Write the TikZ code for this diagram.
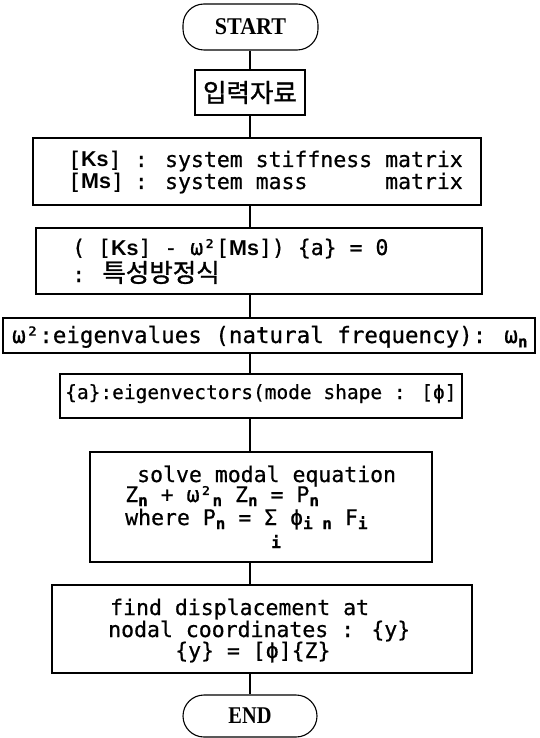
\documentclass[tikz,border=0pt]{standalone}
\usepackage{fontspec}
\setmainfont{Liberation Serif}
\newfontfamily\monof[FakeBold=0.6]{DejaVu Sans Mono}
\newfontfamily\korf[FakeBold=1.2]{Noto Sans CJK KR}
\newfontfamily\sanf{Liberation Sans}
\newcommand{\lo}[1]{\raisebox{-0.35ex}{\fontsize{16}{16}\selectfont\bfseries #1}}
\newcommand{\KS}{\makebox[2.5em][l]{[{\sanf\bfseries Ks}]}}
\newcommand{\MS}{\makebox[2.5em][l]{[{\sanf\bfseries Ms}]}}
\begin{document}
\begin{tikzpicture}[x=1pt,y=-1pt,
  box/.style={draw, line width=1.1pt, rectangle, inner sep=0pt},
  term/.style={draw, line width=1.1pt, rectangle, rounded corners=21pt, inner sep=0pt,
    font=\bfseries\fontsize{24}{24}\selectfont},
  txt/.style={anchor=base west, inner sep=0pt, font=\monof\fontsize{21.5}{21.5}\selectfont},
  link/.style={line width=1.1pt}]
\useasboundingbox (0,0) rectangle (540,738);
\coordinate (c) at (250,0);
% boxes
\node[term, minimum width=135pt, minimum height=46pt] (start) at (250.5,27) {\scalebox{0.92}[1]{START}};
\node[box, minimum width=110pt, minimum height=45pt] (input) at (250,92.5) {};
\node[box, minimum width=448pt, minimum height=67pt] (ks) at (257,171.5) {};
\node[box, minimum width=446pt, minimum height=66pt] (eq) at (259,261) {};
\node[box, minimum width=532pt, minimum height=35pt] (om) at (269,335.5) {};
\node[box, minimum width=402pt, minimum height=44pt] (av) at (261,396) {};
\node[box, minimum width=342pt, minimum height=110pt] (solve) at (261,507) {};
\node[box, minimum width=420pt, minimum height=88pt] (find) at (262,629) {};
\node[term, minimum width=134pt, minimum height=42pt] (end) at (250,716) {\scalebox{0.85}[1]{END}};
% texts
\node[anchor=center, inner sep=0pt, font=\korf\fontsize{25.5}{25.5}\selectfont] (t0) at (input.center) {입력자료};
\node[txt] (t1) at (68,167) {\KS{} : system stiffness matrix};
\node[txt] (t2) at (68,189) {\MS{} : system mass\ \ \ \ \ \ matrix};
\node[txt] (t3) at (72,255) {( [{\sanf\bfseries Ks}] - ω²[{\sanf\bfseries Ms}]) \{a\} = 0};
\node[txt] (t4) at (72,282) {: {\korf\fontsize{25.5}{25.5}\selectfont 특성방정식}};
\node[txt, font=\monof\fontsize{22.5}{22.5}\selectfont] (t5) at (12,343) {ω²:eigenvalues (natural frequency): ω\lo{n}};
\node[txt, font=\monof\fontsize{19.5}{19.5}\selectfont] (t6) at (65,399) {\{a\}:eigenvectors(mode shape : [ϕ]};
\node[txt] (t7) at (137,482) {solve modal equation};
\node[txt] (t8) at (125,502) {Z\lo{n} + ω²\lo{n} Z\lo{n} = P\lo{n}};
\node[txt] (t9) at (125,525) {where P\lo{n} = Σ ϕ\lo{i n} F\lo{i}};
\node[anchor=base, inner sep=0pt, font=\monof\bfseries\fontsize{16}{16}\selectfont] (t10) at (276,548) {i};
\node[txt] (t11) at (110,615) {find displacement at};
\node[txt] (t12) at (108,637) {nodal coordinates : \{y\}};
\node[txt] (t13) at (175,658) {\{y\} = [ϕ]\{Z\}};
% connectors
\draw[link] (start.south -| c) -- (input.north -| c);
\draw[link] (input.south -| c) -- (ks.north -| c);
\draw[link] (ks.south -| c) -- (eq.north -| c);
\draw[link] (eq.south -| c) -- (om.north -| c);
\draw[link] (om.south -| c) -- (av.north -| c);
\draw[link] (av.south -| c) -- (solve.north -| c);
\draw[link] (solve.south -| c) -- (find.north -| c);
\draw[link] (find.south -| c) -- (end.north -| c);
\end{tikzpicture}
\end{document}
